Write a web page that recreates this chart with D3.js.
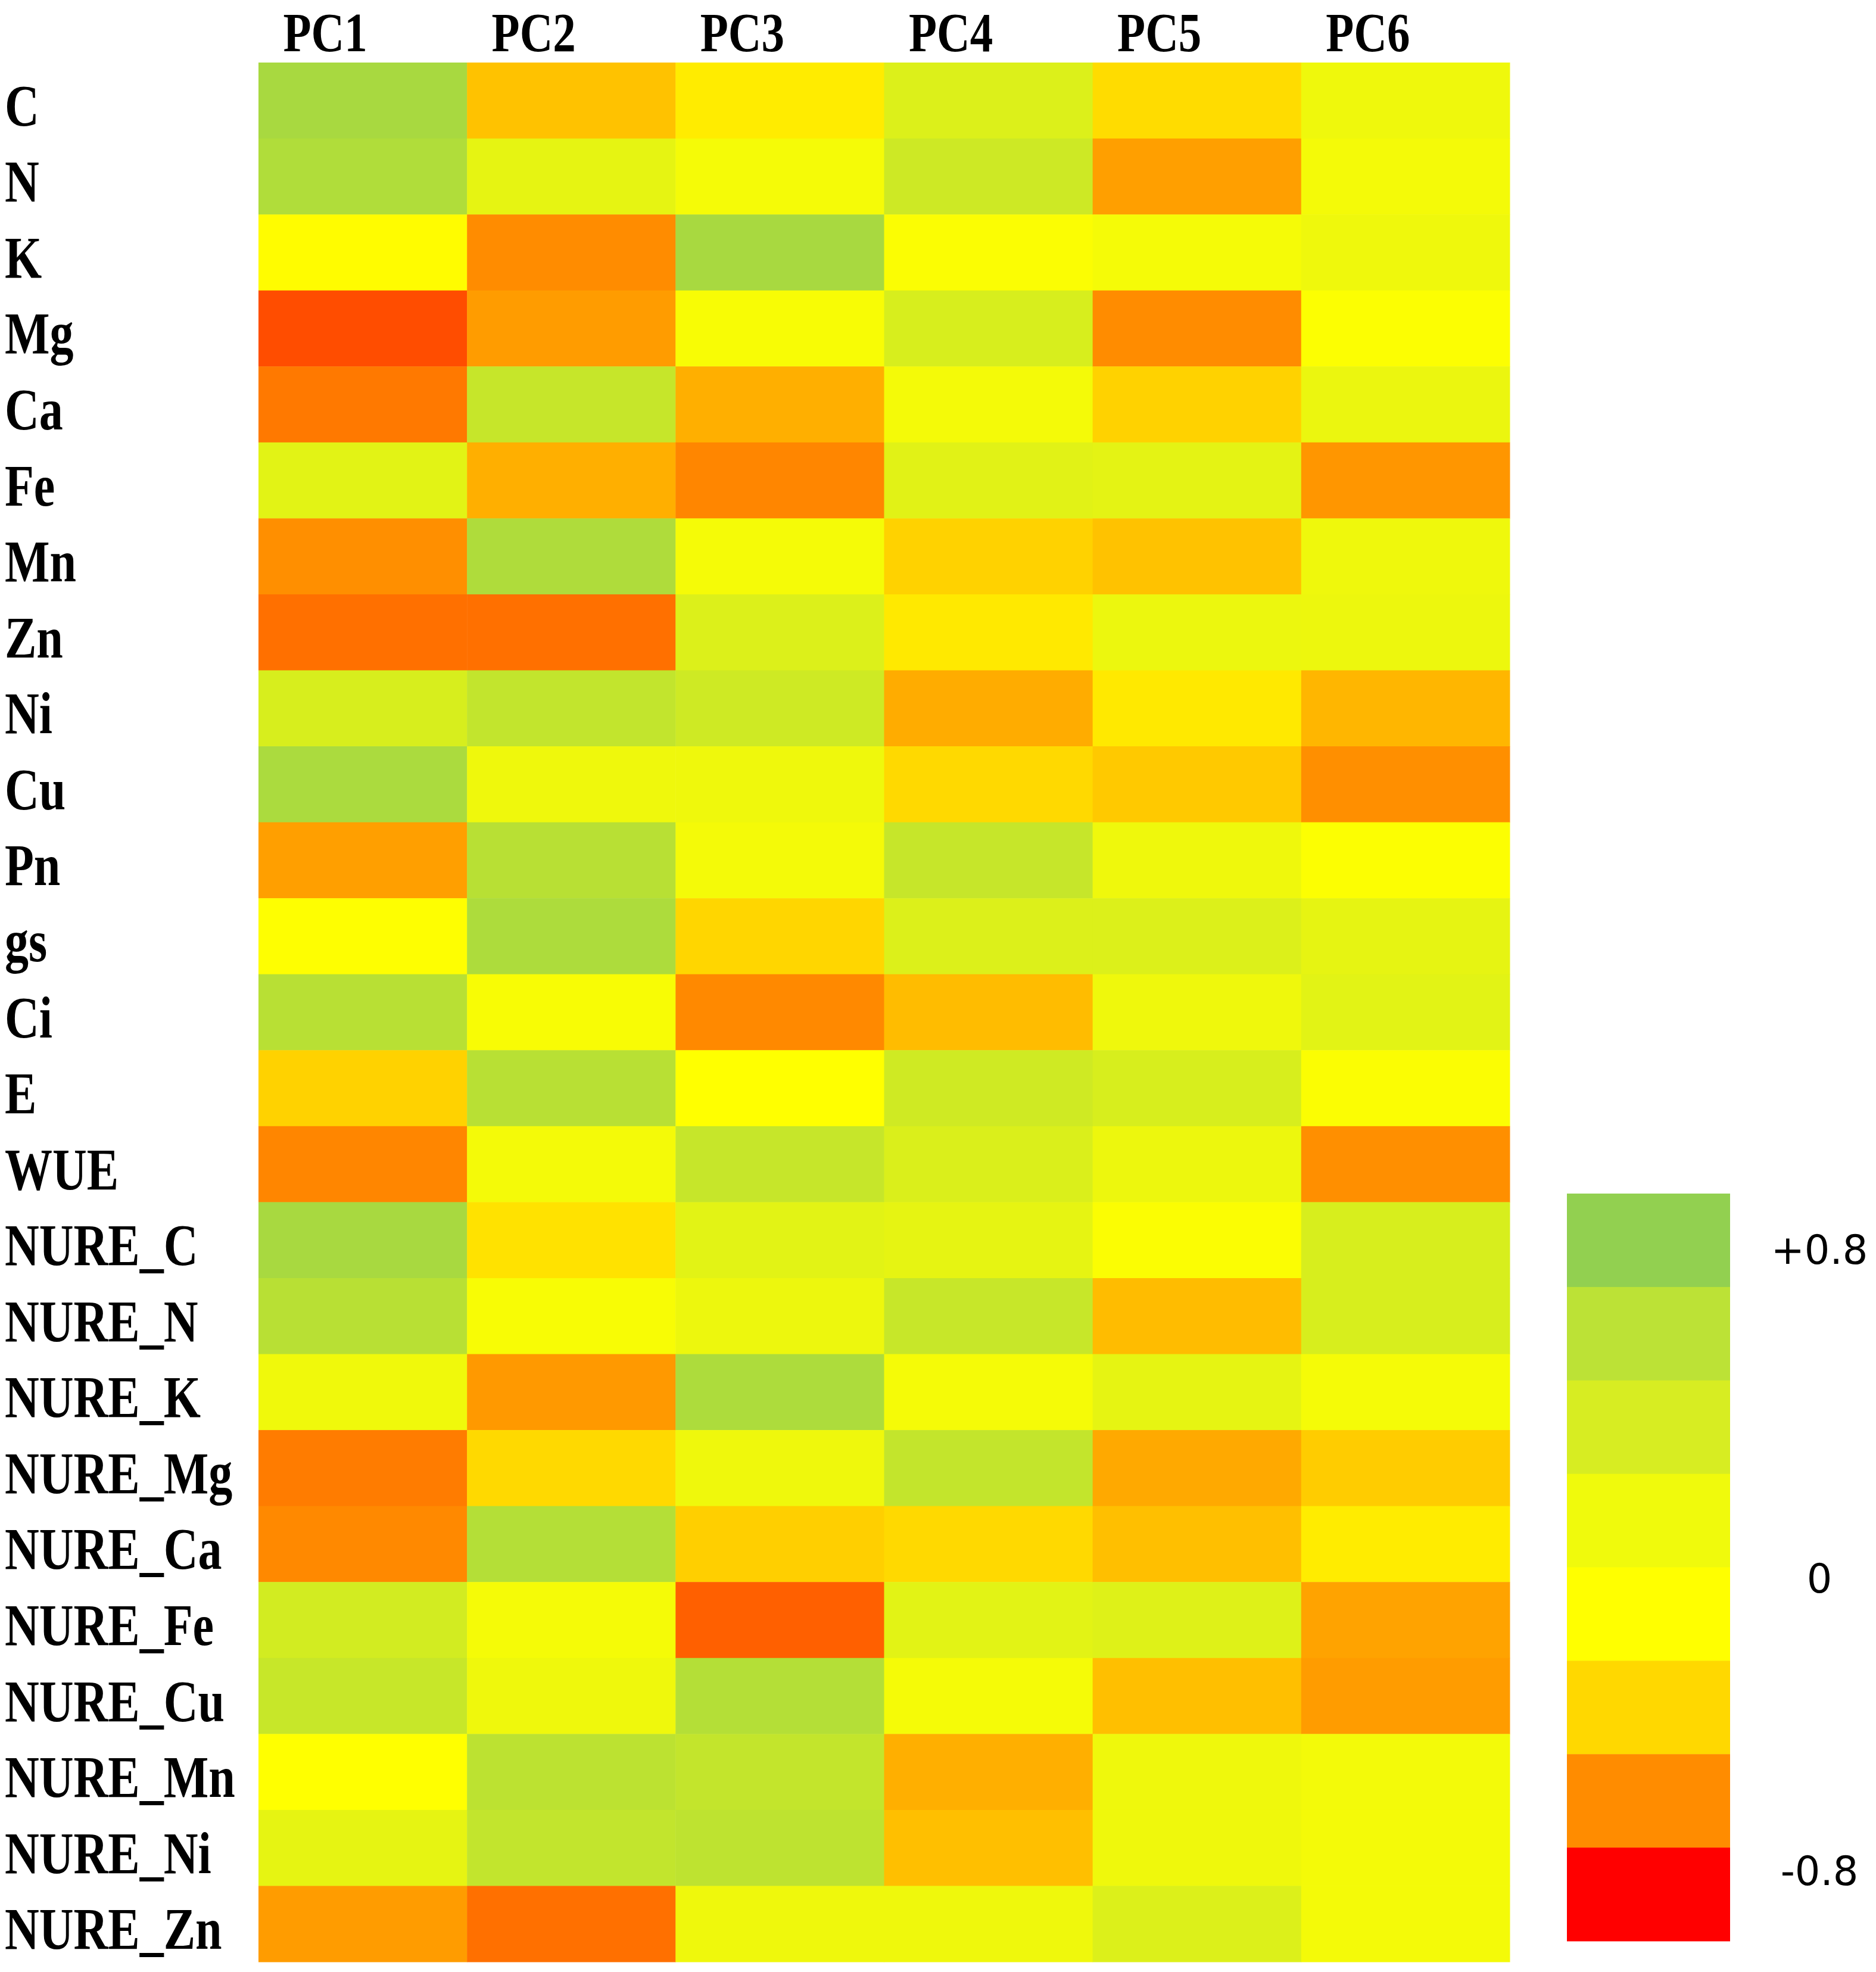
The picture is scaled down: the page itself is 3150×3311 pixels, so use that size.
<!DOCTYPE html>
<html>
<head>
<meta charset="utf-8">
<script src="https://cdn.jsdelivr.net/npm/d3@7"></script>
<style>
  html, body { margin: 0; padding: 0; background: #fff; }
  .lab { font-family: "Liberation Serif", "Times New Roman", serif; font-weight: bold; fill: #000; }
  .leg { font-family: "DejaVu Sans", Verdana, sans-serif; fill: #000; }
</style>
</head>
<body>
<div id="chart"></div>
<script>
// loadings, one array per component (rows in order of `variables`)
const components = ["PC1", "PC2", "PC3", "PC4", "PC5", "PC6"];
const variables = ["C", "N", "K", "Mg", "Ca", "Fe", "Mn", "Zn", "Ni", "Cu", "Pn", "gs", "Ci", "E", "WUE",
    "NURE_C", "NURE_N", "NURE_K", "NURE_Mg", "NURE_Ca", "NURE_Fe", "NURE_Cu", "NURE_Mn", "NURE_Ni", "NURE_Zn"];

const pc1 = [0.64, 0.58, -0.01, -0.56, -0.42, 0.21, -0.35, -0.45, 0.29, 0.62, -0.30, 0.01, 0.52, -0.14, -0.38,
    0.64, 0.52, 0.11, -0.41, -0.37, 0.33, 0.41, 0.0, 0.18, -0.31];
const pc2 = [-0.19, 0.18, -0.36, -0.31, 0.42, -0.25, 0.59, -0.45, 0.45, 0.12, 0.52, 0.60, 0.05, 0.52, 0.08,
    -0.09, 0.05, -0.32, -0.12, 0.55, 0.07, 0.12, 0.49, 0.45, -0.45];
const pc3 = [-0.06, 0.07, 0.64, 0.05, -0.25, -0.38, 0.07, 0.26, 0.36, 0.12, 0.08, -0.13, -0.37, 0.0, 0.42,
    0.21, 0.13, 0.60, 0.12, -0.15, -0.50, 0.55, 0.44, 0.48, 0.12];
const pc4 = [0.26, 0.37, 0.03, 0.29, 0.08, 0.22, -0.14, -0.07, -0.26, -0.12, 0.42, 0.26, -0.21, 0.35, 0.27,
    0.18, 0.41, 0.07, 0.44, -0.12, 0.21, 0.07, -0.25, -0.20, 0.12];
const pc5 = [-0.11, -0.30, 0.07, -0.36, -0.14, 0.20, -0.19, 0.14, -0.07, -0.17, 0.12, 0.26, 0.12, 0.29, 0.13,
    0.03, -0.21, 0.18, -0.27, -0.20, 0.24, -0.20, 0.12, 0.12, 0.26];
const pc6 = [0.12, 0.08, 0.12, 0.02, 0.15, -0.33, 0.12, 0.13, -0.23, -0.35, 0.02, 0.18, 0.21, 0.03, -0.35,
    0.29, 0.29, 0.07, -0.16, -0.06, -0.29, -0.31, 0.09, 0.08, 0.08];

// legend
const legendColors = ["#92d050", "#bce236", "#d7ed22", "#f0fa0c", "#ffff00", "#ffd800", "#ff8c00", "#ff0000"];
const legendTicks = [0.8, 0, -0.8];
const legendTickText = ["+0.8", "0", "-0.8"];

const width = 3150, height = 3311;
const margin = { top: 105, right: 615, bottom: 17, left: 434 };

const svg = d3.select("#chart").append("svg")
    .attr("width", width)
    .attr("height", height);

const series = [pc1, pc2, pc3, pc4, pc5, pc6];
const cells = [];
components.forEach((c, j) => {
    variables.forEach((v, i) => cells.push({ comp: c, variable: v, value: series[j][i] }));
});

const x = d3.scaleBand().domain(components).range([margin.left, width - margin.right]);
const y = d3.scaleBand().domain(variables).range([margin.top, height - margin.bottom]);

const color = d3.scaleLinear()
    .domain([-0.8, 0, 0.8])
    .range(["#ff0000", "#ffff00", "#92d050"])
    .clamp(true);

// heatmap cells
svg.append("g").selectAll("rect")
    .data(cells)
    .enter()
    .append("rect")
    .attr("x", d => x(d.comp))
    .attr("y", d => y(d.variable))
    .attr("width", x.bandwidth() + 0.5)
    .attr("height", y.bandwidth() + 0.5)
    .attr("fill", d => color(d.value));

// column labels (condensed bold serif)
svg.append("g").selectAll("g")
    .data(components)
    .enter()
    .append("g")
    .attr("transform", d => "translate(" + (x(d) + x.bandwidth() * 0.32) + ",86)")
    .append("text")
    .attr("class", "lab")
    .attr("text-anchor", "middle")
    .attr("transform", "scale(0.82,1)")
    .style("font-size", "94px")
    .text(d => d);

// row labels
svg.append("g").selectAll("g")
    .data(variables)
    .enter()
    .append("g")
    .attr("transform", d => "translate(8," + (y(d) + y.bandwidth() / 2 + 42) + ")")
    .append("text")
    .attr("class", "lab")
    .attr("transform", "scale(0.8,1)")
    .style("font-size", "100px")
    .text(d => d);

// colour key
const ly = d3.scaleBand().domain(d3.range(legendColors.length)).range([2004, 3259]);
const lx = 2631, lw = 274;

svg.append("g").selectAll("rect")
    .data(legendColors)
    .enter()
    .append("rect")
    .attr("x", lx)
    .attr("y", (d, i) => ly(i))
    .attr("width", lw)
    .attr("height", ly.bandwidth() + 0.5)
    .attr("fill", d => d);

const tickY = d3.scaleLinear()
    .domain([0.8, 0, -0.8])
    .range([ly(0) + ly.bandwidth() * 0.6, ly(4) + ly.bandwidth() * 0.12, ly(7) + ly.bandwidth() * 0.25]);

svg.append("g").selectAll("text")
    .data(legendTicks)
    .enter()
    .append("text")
    .attr("class", "leg")
    .attr("x", 3055)
    .attr("y", d => tickY(d))
    .attr("dy", "0.36em")
    .attr("text-anchor", "middle")
    .style("font-size", "67px")
    .text((d, i) => legendTickText[i]);
</script>
</body>
</html>
